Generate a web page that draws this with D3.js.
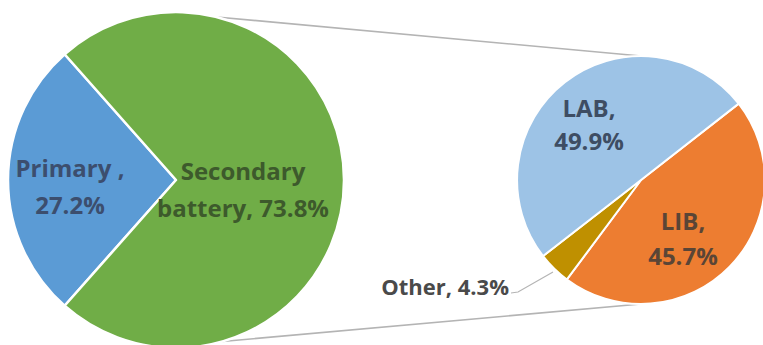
<!DOCTYPE html>
<html>
<head>
<meta charset="utf-8">
<script src="https://cdn.jsdelivr.net/npm/d3@7/dist/d3.min.js"></script>
<style>
  html, body { margin: 0; padding: 0; background: #ffffff; }
  svg { display: block; }
  text { font-family: "Open Sans", Lato, sans-serif; font-weight: 700; }
</style>
</head>
<body>
<svg id="chart" width="763" height="345"></svg>
<script>
// Battery market share: main pie split into primary / secondary,
// secondary battery broken down in the small pie.
const mainLabels = ["Primary ,", "Secondary battery"];
const mainValues = [27.2, 73.8];
const mainColors = ["#5b9bd5", "#70ad47"];

const subLabels = ["LIB", "Other", "LAB"];
const subValues = [45.7, 4.3, 49.9];
const subColors = ["#ed7d31", "#bf9000", "#9dc3e6"];

const svg = d3.select("#chart");

// ---- main pie ----
const main = { cx: 176, cy: 180, r: 168 };
const mainTotal = d3.sum(mainValues);
const primaryAngle = 2 * Math.PI * mainValues[0] / mainTotal;
const mainStart = 1.5 * Math.PI - primaryAngle / 2;  // primary slice faces left

const mainPie = d3.pie().sort(null).value(d => d)
  .startAngle(mainStart).endAngle(mainStart + 2 * Math.PI);
const mainArc = d3.arc().innerRadius(0).outerRadius(main.r);

// ---- sub pie ----
const sub = { cx: 641, cy: 180, r: 124 };
const subStart = 52 * Math.PI / 180;
const subPie = d3.pie().sort(null).value(d => d)
  .startAngle(subStart).endAngle(subStart + 2 * Math.PI);
const subArc = d3.arc().innerRadius(0).outerRadius(sub.r);

// connector lines between the two pies
const pt = (c, r, a) => [c.cx + r * Math.sin(a), c.cy - r * Math.cos(a)];
const connectors = [
  [pt(main, main.r, 14 * Math.PI / 180), pt(sub, sub.r, 0)],
  [pt(main, main.r, 164 * Math.PI / 180), pt(sub, sub.r, Math.PI)]
];
svg.append("g").selectAll("line").data(connectors).join("line")
  .attr("x1", d => d[0][0]).attr("y1", d => d[0][1])
  .attr("x2", d => d[1][0]).attr("y2", d => d[1][1])
  .attr("stroke", "#b4b4b4").attr("stroke-width", 1.6);

svg.append("g").attr("transform", `translate(${main.cx},${main.cy})`)
  .selectAll("path").data(mainPie(mainValues)).join("path")
  .attr("d", mainArc)
  .attr("fill", (d, i) => mainColors[i])
  .attr("stroke", "#ffffff").attr("stroke-width", 2.5)
  .attr("stroke-linejoin", "round");

svg.append("g").attr("transform", `translate(${sub.cx},${sub.cy})`)
  .selectAll("path").data(subPie(subValues)).join("path")
  .attr("d", subArc)
  .attr("fill", (d, i) => subColors[i])
  .attr("stroke", "#ffffff").attr("stroke-width", 2)
  .attr("stroke-linejoin", "round");

// leader line for the thin "Other" slice
svg.append("polyline")
  .attr("points", "511,293 518,292 553,272")
  .attr("fill", "none").attr("stroke", "#b4b4b4").attr("stroke-width", 1.2);

// ---- data labels ----
const fmt = v => v.toFixed(1) + "%";
const labels = [
  { lines: [mainLabels[0], fmt(mainValues[0])], x: 70, y: [177, 214], fill: "#3c4e6e", size: 24 },
  { lines: ["Secondary", "battery, " + fmt(mainValues[1])], x: 243, y: [180, 217], fill: "#3d5a2c", size: 24 },
  { lines: [subLabels[2] + ",", fmt(subValues[2])], x: 589, y: [117, 150], fill: "#3e4d63", size: 24 },
  { lines: [subLabels[0] + ",", fmt(subValues[0])], x: 683, y: [230, 265], fill: "#5a4536", size: 24 },
  { lines: [subLabels[1] + ", " + fmt(subValues[1])], x: 509, y: [295], fill: "#4a4a4a", size: 22, anchor: "end" }
];

labels.forEach(l => {
  const t = svg.append("text")
    .attr("text-anchor", l.anchor || "middle")
    .attr("font-size", l.size)
    .attr("fill", l.fill);
  l.lines.forEach((s, i) => {
    t.append("tspan").attr("x", l.x).attr("y", l.y[i]).text(s);
  });
});
</script>
</body>
</html>
